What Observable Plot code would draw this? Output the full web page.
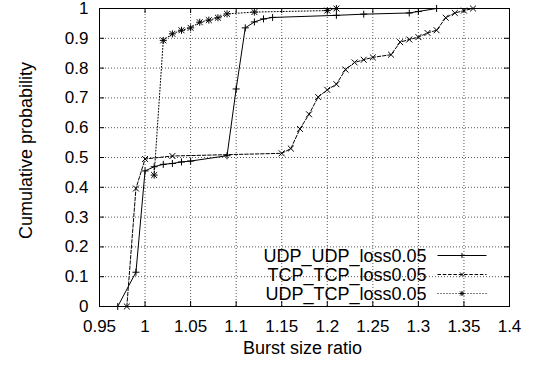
<!DOCTYPE html>
<html><head><meta charset="utf-8">
<script src="https://cdn.jsdelivr.net/npm/d3@7"></script>
<script src="https://cdn.jsdelivr.net/npm/@observablehq/plot@0.6"></script>
<style>
html,body{margin:0;padding:0;background:#fff;}
svg{display:block;font-family:"Liberation Sans",Arial,Helvetica,sans-serif;}
</style></head><body>
<div id="chart"></div>
<script>
// ---- data ----
const seriesNames = ["UDP_UDP_loss0.05", "TCP_TCP_loss0.05", "UDP_TCP_loss0.05"];
const udpUdpX = [0.97, 0.99, 1.0, 1.01, 1.02, 1.03, 1.04, 1.05, 1.09, 1.10, 1.11, 1.12, 1.13, 1.14, 1.21, 1.24, 1.29, 1.30, 1.32];
const udpUdpY = [0, 0.115, 0.455, 0.469, 0.477, 0.48, 0.485, 0.488, 0.506, 0.73, 0.935, 0.955, 0.965, 0.97, 0.977, 0.981, 0.985, 0.99, 1.0];
const tcpTcpX = [0.98, 0.99, 1.0, 1.03, 1.15, 1.16, 1.17, 1.18, 1.19, 1.20, 1.21, 1.22, 1.23, 1.24, 1.25, 1.27, 1.28, 1.29, 1.30, 1.31, 1.32, 1.33, 1.34, 1.35, 1.36];
const tcpTcpY = [0, 0.396, 0.495, 0.505, 0.514, 0.53, 0.596, 0.645, 0.703, 0.727, 0.746, 0.795, 0.819, 0.828, 0.836, 0.845, 0.887, 0.896, 0.904, 0.918, 0.927, 0.969, 0.985, 0.993, 1.0];
const udpTcpX = [1.01, 1.02, 1.03, 1.04, 1.05, 1.06, 1.07, 1.08, 1.09, 1.12, 1.20, 1.21];
const udpTcpY = [0.441, 0.893, 0.915, 0.927, 0.935, 0.954, 0.961, 0.969, 0.982, 0.988, 0.993, 1.0];
const xTicks = [0.95, 1, 1.05, 1.1, 1.15, 1.2, 1.25, 1.3, 1.35, 1.4];
const yTicks = [0, 0.1, 0.2, 0.3, 0.4, 0.5, 0.6, 0.7, 0.8, 0.9, 1];
const xLabel = "Burst size ratio";
const yLabel = "Cumulative probability";

// ---- layout / styles ----
const W = 533, H = 366;
const M = {left: 99, right: 24, top: 8, bottom: 60};
const plotW = W - M.left - M.right, plotH = H - M.top - M.bottom;
const TICK = 5;
const styles = [
  {dash: null, symbols: [["plus", 2.4]]},
  {dash: "3.5,1.8", symbols: [["times", 2.8]]},
  {dash: "1,2", symbols: [["plus", 2.4], ["times", 2.8]]}
];
const rawSeries = [[udpUdpX, udpUdpY], [tcpTcpX, tcpTcpY], [udpTcpX, udpTcpY]];
const tables = rawSeries.map(([xs, ys], i) => xs.map((x, j) => ({x, y: ys[j], s: seriesNames[i]})));

const fmt = d => String(+d.toFixed(2));

function legend(index, scales, values, dims) {
  const g = d3.create("svg:g").attr("font-size", 18).attr("font-family", '"Liberation Sans",Arial,sans-serif');
  const right = dims.width - dims.marginRight;
  const bottom = dims.height - dims.marginBottom;
  const rows = [51, 32, 13];
  seriesNames.forEach((name, i) => {
    const cy = bottom - rows[i];
    g.append("text").attr("x", right - 82.5).attr("y", cy + 6.5).attr("text-anchor", "end").attr("fill", "#000").text(name);
    g.append("line").attr("x1", right - 71.5).attr("x2", right - 22.5).attr("y1", cy + 0.5).attr("y2", cy + 0.5)
      .attr("stroke", "#000").attr("stroke-width", 1).attr("stroke-dasharray", styles[i].dash);
    const mx = right - 47, my = cy + 0.5;
    styles[i].symbols.forEach(([sym]) => {
      const p = sym === "plus" ? `M${mx-2.5},${my}H${mx+2.5}M${mx},${my-2.5}V${my+2.5}`
        : `M${mx-2},${my-2}L${mx+2},${my+2}M${mx-2},${my+2}L${mx+2},${my-2}`;
      g.append("path").attr("d", p).attr("stroke", "#000").attr("stroke-width", 1).attr("fill", "none");
    });
  });
  return g.node();
}

const marks = [
  // grid
  Plot.ruleX(xTicks.slice(1, -1), {x: d => d, stroke: "#555", strokeDasharray: "1,2", strokeWidth: 1}),
  Plot.ruleY(yTicks.slice(1, -1), {y: d => d, stroke: "#555", strokeDasharray: "1,2", strokeWidth: 1}),
  // inward ticks on all four sides
  Plot.ruleX(xTicks, {x: d => d, insetTop: plotH - TICK, stroke: "#000"}),
  Plot.ruleX(xTicks, {x: d => d, insetBottom: plotH - TICK, stroke: "#000"}),
  Plot.ruleY(yTicks, {y: d => d, insetRight: plotW - TICK, stroke: "#000"}),
  Plot.ruleY(yTicks, {y: d => d, insetLeft: plotW - TICK, stroke: "#000"}),
  // axes labels (tick text)
  Plot.axisX(xTicks, {tickSize: 0, tickPadding: 13, tickFormat: fmt, fontSize: 17, label: null}),
  Plot.axisY(yTicks, {tickSize: 0, tickPadding: 11, tickFormat: fmt, fontSize: 17, label: null}),
];
tables.forEach((t, i) => {
  marks.push(Plot.line(t, {x: "x", y: "y", stroke: "#000", strokeWidth: 1, strokeDasharray: styles[i].dash}));
  styles[i].symbols.forEach(([sym, r]) => {
    marks.push(Plot.dot(t, {x: "x", y: "y", symbol: sym, r, stroke: "#000", strokeWidth: 1}));
  });
});
marks.push(
  Plot.frame({stroke: "#000", strokeWidth: 1}),
  Plot.text([xLabel], {frameAnchor: "bottom", dy: 47, dx: -2, fontSize: 18, fill: "#000"}),
  Plot.text([yLabel], {frameAnchor: "left", textAnchor: "middle", lineAnchor: "middle", rotate: -90, dx: -73, dy: -7, fontSize: 18, fill: "#000"}),
  legend
);

const chart = Plot.plot({
  width: W, height: H,
  marginLeft: M.left, marginRight: M.right, marginTop: M.top, marginBottom: M.bottom,
  x: {domain: [0.95, 1.4], axis: null},
  y: {domain: [0, 1], axis: null},
  style: {fontFamily: '"Liberation Sans",Arial,sans-serif', color: "#000", background: "#fff"},
  marks
});
document.getElementById("chart").appendChild(chart);
</script>
</body></html>
